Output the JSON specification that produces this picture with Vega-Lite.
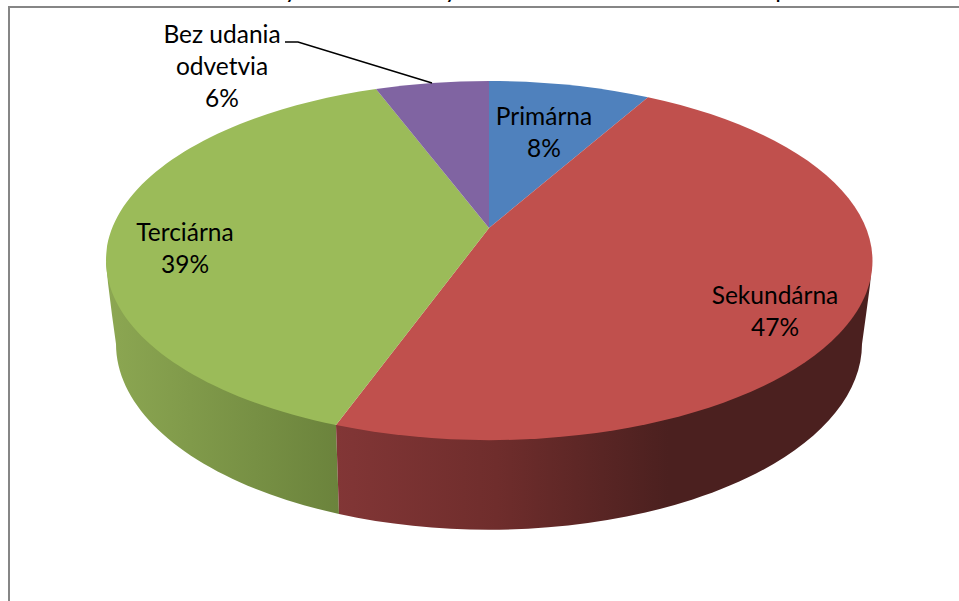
{
  "$schema": "https://vega.github.io/schema/vega-lite/v6.json",
  "width": 959,
  "height": 601,
  "padding": 0,
  "autosize": {"type": "none"},
  "background": "white",
  "config": {"view": {"stroke": null}},
  "resolve": {"scale": {"x": "independent", "y": "independent"}},
  "data": {"values": [
    {"slice": "Primárna", "share": 8, "label": "Primárna\n8%"},
    {"slice": "Sekundárna", "share": 47, "label": "Sekundárna\n47%"},
    {"slice": "Terciárna", "share": 39, "label": "Terciárna\n39%"},
    {"slice": "Bez udania odvetvia", "share": 6, "label": "Bez udania\nodvetvia\n6%"}
  ]},
  "layer": [
    {
      "data": {"values": [{"element": "frame"}]},
      "mark": {"type": "point", "filled": false, "size": 4, "stroke": "#868686", "strokeWidth": 2, "opacity": 1, "shape": "M9 601L9 7L959 7"},
      "encoding": {"x": {"value": 0}, "y": {"value": 0}}
    },
    {
      "data": {"values": [{"k": 1, "glyph": "y"}, {"k": 2, "glyph": "y"}, {"k": 3, "glyph": "p"}]},
      "mark": {"type": "text", "font": "Lato", "fontSize": 24.5, "align": "center", "baseline": "alphabetic", "color": "#000000"},
      "encoding": {
        "x": {"field": "k", "type": "quantitative", "axis": null, "scale": {"domain": [1, 2, 3], "range": [291, 451, 782]}},
        "y": {"value": -2},
        "text": {"field": "glyph", "type": "nominal"}
      }
    },
    {
      "transform": [{"filter": "datum.slice === 'Terciárna'"}],
      "mark": {"type": "point", "filled": true, "size": 4, "opacity": 1, "shape": "M106 262L108 283L112 315L116 344A373 186 0 0 0 339 514L336 425Z",
        "fill": {"gradient": "linear", "x1": 0, "y1": 0, "x2": 1, "y2": 0, "stops": [{"offset": 0, "color": "#8CA752"}, {"offset": 1, "color": "#6B833C"}]}},
      "encoding": {"x": {"value": 0}, "y": {"value": 0}}
    },
    {
      "transform": [{"filter": "datum.slice === 'Sekundárna'"}],
      "mark": {"type": "point", "filled": true, "size": 4, "opacity": 1, "shape": "M336 425L339 514A373 186 0 0 0 862 344L866 315L870 285L872 262Z",
        "fill": {"gradient": "linear", "x1": 0, "y1": 0, "x2": 1, "y2": 0, "stops": [{"offset": 0, "color": "#823636"}, {"offset": 0.3, "color": "#6F2D2C"}, {"offset": 0.62, "color": "#4B201F"}, {"offset": 1, "color": "#4B201F"}]}},
      "encoding": {"x": {"value": 0}, "y": {"value": 0}}
    },
    {
      "mark": {"type": "point", "filled": true, "size": 4, "opacity": 1},
      "encoding": {
        "x": {"value": 0},
        "y": {"value": 0},
        "shape": {"field": "slice", "type": "nominal", "legend": null, "scale": {
          "domain": ["Primárna", "Sekundárna", "Terciárna", "Bez udania odvetvia"],
          "range": [
            "M489 228L489 81A383 179.5 0 0 1 648 97.2Z",
            "M489 228L648 97.2A383 179.5 0 0 1 336 425.06Z",
            "M489 228L336 425.06A383 179.5 0 0 1 376 89Z",
            "M489 228L376 89A383 179.5 0 0 1 489 81Z"
          ]}},
        "color": {"field": "slice", "type": "nominal", "legend": null, "scale": {
          "domain": ["Primárna", "Sekundárna", "Terciárna", "Bez udania odvetvia"],
          "range": ["#4F81BD", "#C0504D", "#9BBB59", "#8064A2"]}}
      }
    },
    {
      "transform": [{"filter": "datum.slice === 'Bez udania odvetvia'"}],
      "mark": {"type": "point", "filled": false, "size": 4, "opacity": 1, "stroke": "#000000", "strokeWidth": 1.5, "shape": "M285 42L298 42L432 83"},
      "encoding": {"x": {"value": 0}, "y": {"value": 0}}
    },
    {
      "mark": {"type": "text", "font": "Lato", "fontSize": 24.5, "lineBreak": "\n", "lineHeight": 32, "align": "center", "baseline": "middle", "color": "#000000"},
      "encoding": {
        "x": {"field": "share", "type": "quantitative", "axis": null, "scale": {"domain": [6, 8, 39, 47], "range": [222, 544, 185, 775]}},
        "y": {"field": "share", "type": "quantitative", "axis": null, "scale": {"domain": [6, 8, 39, 47], "range": [36, 117.5, 233.5, 296.5]}},
        "text": {"field": "label", "type": "nominal"}
      }
    }
  ]
}
